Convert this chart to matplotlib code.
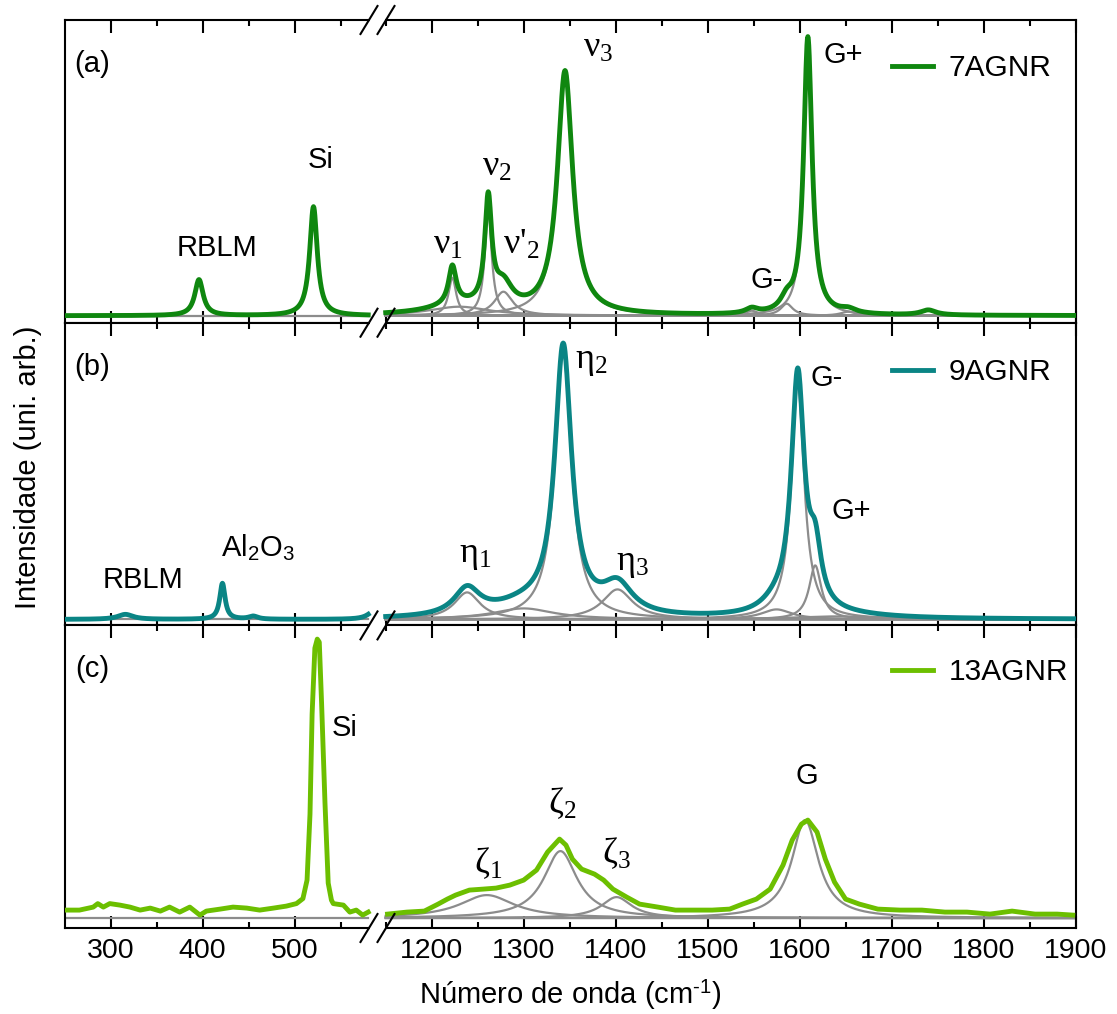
import numpy as np
import matplotlib
matplotlib.use("Agg")
from matplotlib import pyplot as plt
from matplotlib.lines import Line2D

plt.rcParams['font.family'] = ['Liberation Sans', 'DejaVu Sans']
plt.rcParams['mathtext.fontset'] = 'custom'
plt.rcParams['mathtext.rm'] = 'Liberation Serif'
plt.rcParams['mathtext.it'] = 'Liberation Serif:italic'
plt.rcParams['mathtext.sf'] = 'Liberation Sans'

# broken x axis: 250-590 | 1141-1900
BREAK_LO = 590
BREAK_HI = 1141

# peak parameters (center cm-1, height, half width)
# 7AGNR
a_base = 7
a_left_c = [396, 520.5]
a_left_a = [36, 109]
a_left_w = [5.5, 5]
a_right_c = [1222.5, 1261.5, 1278, 1345, 1230, 1548, 1586, 1609, 1653, 1740]
a_right_a = [38, 106, 24, 243, 9, 5, 12, 277, 4, 5]
a_right_w = [5, 4.5, 12, 10, 40, 8, 8, 5.5, 10, 10]

# 9AGNR
b_base = 6
b_left_c = [316, 421.5, 455, 586]
b_left_a = [5, 36, 3, 8]
b_left_w = [10, 3.5, 6, 8]
b_right_c = [1238.5, 1300, 1343, 1402, 1575, 1598, 1617, 1640]
b_right_a = [27, 11, 267, 30, 10, 236, 54, 3]
b_right_w = [17, 40, 11, 20, 20, 8.5, 8, 60]

# 13AGNR: measured curve (noisy) and fitted components
c_base = 10
c_left_x = [252, 266, 281, 286, 292, 299, 310, 321, 332, 343, 354, 364, 375, 386, 397, 404,
            419, 433, 448, 462, 477, 491, 502, 509, 513.5, 516.7, 519, 522, 524.6, 526.8,
            529.3, 533, 536.5, 540, 542, 553, 560, 567, 574, 580]
c_left_y = [18, 18, 21, 24.5, 21, 24.5, 23, 21, 18, 20, 17, 21, 16, 21, 13, 17,
            19, 21, 20, 18, 20, 22, 24.5, 29.5, 48, 114, 214, 280, 289, 286,
            225, 125, 45, 28, 24.5, 23, 16, 18, 13, 16]
c_right_x = [1152, 1173, 1192, 1207, 1217, 1226, 1241, 1256, 1270, 1285, 1300, 1314, 1326,
             1339, 1346, 1353, 1363, 1377, 1387, 1397, 1412, 1426, 1446, 1465, 1485, 1505,
             1524, 1538, 1553, 1568, 1582, 1592, 1602, 1609, 1619, 1628, 1638, 1650, 1665,
             1685, 1709, 1733, 1758, 1782, 1807, 1831, 1856, 1880, 1897]
c_right_y = [14, 16, 17, 24, 29, 33, 38, 39, 40, 43, 48, 58, 76,
             89, 83, 69, 59, 54, 48, 39, 31, 24, 21, 18, 18, 18,
             19, 24, 29, 39, 63, 88, 104, 108, 96, 69, 46, 29, 24,
             19, 18, 18, 16, 16, 14, 17, 14, 14, 13]
c_right_c = [1260, 1340, 1401, 1606]
c_right_a = [23, 67, 21, 98]
c_right_w = [36, 22, 20, 17.5]

major_vals = [300, 400, 500, 1200, 1300, 1400, 1500, 1600, 1700, 1800, 1900]
minor_vals = [350, 450, 550, 1150, 1250, 1350, 1450, 1550, 1650, 1750, 1850]

col7 = '#0f870f'
col9 = '#0a8585'
col13 = '#6cbf00'
gray = '#8c8c8c'


def xmap(x):
    x = np.asarray(x, float)
    return np.where(x > BREAK_LO, x - (BREAK_HI - BREAK_LO), x)


def lor(x, c, a, w):
    return a * w ** 2 / ((x - c) ** 2 + w ** 2)


xl = np.arange(250, 580.5, 0.5)
xr = np.arange(1150, 1900.5, 0.5)

W, H = 1117, 1014
fig = plt.figure(figsize=(W / 100, H / 100), dpi=100)


def fx(px):
    return px / W


def fy(py):
    return 1 - py / H


left, right = 64.7, 1075.5
tops = [20, 322.7, 625.4]
ph = 302.7
axes = []
for t in tops:
    ax = fig.add_axes([fx(left), fy(t + ph), fx(right) - fx(left), ph / H])
    axes.append(ax)

for i, ax in enumerate(axes):
    ax.set_xlim(250, 1900 - (BREAK_HI - BREAK_LO))
    ax.set_ylim(0, ph)
    ax.set_yticks([])
    ax.set_xticks(xmap(major_vals))
    ax.set_xticks(xmap(minor_vals), minor=True)
    ax.tick_params(axis='x', which='both', direction='in', top=True, bottom=True, width=1.5)
    ax.tick_params(axis='x', which='major', length=9)
    ax.tick_params(axis='x', which='minor', length=4.5)
    for s in ax.spines.values():
        s.set_linewidth(1.5)
    if i < 2:
        ax.tick_params(axis='x', labelbottom=False)
    else:
        ax.set_xticklabels([str(v) for v in major_vals])
        ax.tick_params(axis='x', labelsize=20.5, pad=7)

LW = 3.5


def draw_fit(ax, base, lc, la, lw_, rc, ra, rw, col, label):
    yl = base + sum(lor(xl, c, a, w) for c, a, w in zip(lc, la, lw_))
    comps = [lor(xr, c, a, w) for c, a, w in zip(rc, ra, rw)]
    yr = base + sum(comps)
    ax.plot(xmap(xl), np.full_like(xl, base), color=gray, lw=1.6, zorder=2)
    ax.plot(xmap(xr), np.full_like(xr, base), color=gray, lw=1.6, zorder=2)
    for cp in comps:
        ax.plot(xmap(xr), base + cp, color=gray, lw=1.6, zorder=2)
    ax.plot(xmap(xl), yl, color=col, lw=LW, zorder=3, label=label)
    ax.plot(xmap(xr), yr, color=col, lw=LW, zorder=3)


draw_fit(axes[0], a_base, a_left_c, a_left_a, a_left_w, a_right_c, a_right_a, a_right_w, col7, '7AGNR')
draw_fit(axes[1], b_base, b_left_c, b_left_a, b_left_w, b_right_c, b_right_a, b_right_w, col9, '9AGNR')

ax = axes[2]
ax.plot(xmap(xl), np.full_like(xl, c_base), color=gray, lw=1.6, zorder=2)
ax.plot(xmap(xr), np.full_like(xr, c_base), color=gray, lw=1.6, zorder=2)
for c, a, w in zip(c_right_c, c_right_a, c_right_w):
    ax.plot(xmap(xr), c_base + lor(xr, c, a, w), color=gray, lw=1.6, zorder=2)
ax.plot(xmap(c_left_x), c_left_y, color=col13, lw=LW, zorder=3, label='13AGNR')
ax.plot(xmap(c_right_x), c_right_y, color=col13, lw=LW, zorder=3)

for ax, yc in zip(axes, [68, 372, 672]):
    ax.legend(loc='center left', bbox_to_anchor=(fx(892), fy(yc)), bbox_transform=fig.transFigure,
              frameon=False, fontsize=21.5, handlelength=1.38, handletextpad=0.52,
              borderpad=0, borderaxespad=0)

for ax, lab in zip(axes, ['(a)', '(b)', '(c)']):
    ax.text(0.027, 0.855, lab, transform=ax.transAxes, fontsize=21, ha='center', va='center')

sans = dict(fontsize=21, ha='center', va='center')
serif = dict(fontsize=26, ha='center', va='center', family='Liberation Serif')

ax = axes[0]
ax.text(415.5, 74.7, 'RBLM', **sans)
ax.text(528.6, 162.7, 'Si', **sans)
ax.text(xmap(1217.7), 77.7, 'ν${}_\\mathregular{1}$', **serif)
ax.text(xmap(1271), 155.7, 'ν${}_\\mathregular{2}$', **serif)
ax.text(xmap(1297), 77.7, "ν'${}_\\mathregular{2}$", **serif)
ax.text(xmap(1380.8), 274.7, 'ν${}_\\mathregular{3}$', **serif)
ax.text(xmap(1564.5), 42.7, 'G-', **sans)
ax.text(xmap(1647), 267.7, 'G+', **sans)

ax = axes[1]
ax.text(335, 45.4, 'RBLM', **sans)
ax.text(460, 77.4, 'Al${}_\\mathregular{2}$O${}_\\mathregular{3}$', **sans)
ax.text(xmap(1247), 70.4, 'η${}_\\mathregular{1}$', **serif)
ax.text(xmap(1373), 264.4, 'η${}_\\mathregular{2}$', **serif)
ax.text(xmap(1417.8), 62.4, 'η${}_\\mathregular{3}$', **serif)
ax.text(xmap(1629.6), 247.4, 'G-', **sans)
ax.text(xmap(1655.7), 114.4, 'G+', **sans)

ax = axes[2]
ax.text(554.7, 200, 'Si', **sans)
ax.text(xmap(1261.2), 65, 'ζ${}_\\mathregular{1}$', **serif)
ax.text(xmap(1341.6), 125, 'ζ${}_\\mathregular{2}$', **serif)
ax.text(xmap(1401.4), 75, 'ζ${}_\\mathregular{3}$', **serif)
ax.text(xmap(1608), 152, 'G', **sans)

# break marks
for yb in [20, 322.7, 625.4, 928]:
    fig.add_artist(Line2D([fx(372), fx(383)], [fy(yb), fy(yb)], color='white', lw=3, zorder=10))
    for xc in [369, 386]:
        fig.add_artist(Line2D([fx(xc - 8.5), fx(xc + 8.5)], [fy(yb + 14), fy(yb - 14)],
                              color='black', lw=1.5, zorder=11))

fig.text(fx(570), fy(995), 'Número de onda (cm${}^\\mathregular{\u20101}$)', fontsize=21, ha='center', va='center')
fig.text(fx(28), fy(467), 'Intensidade (uni. arb.)', fontsize=21, ha='center', va='center', rotation=90)

fig.savefig('out.png', dpi=100)
